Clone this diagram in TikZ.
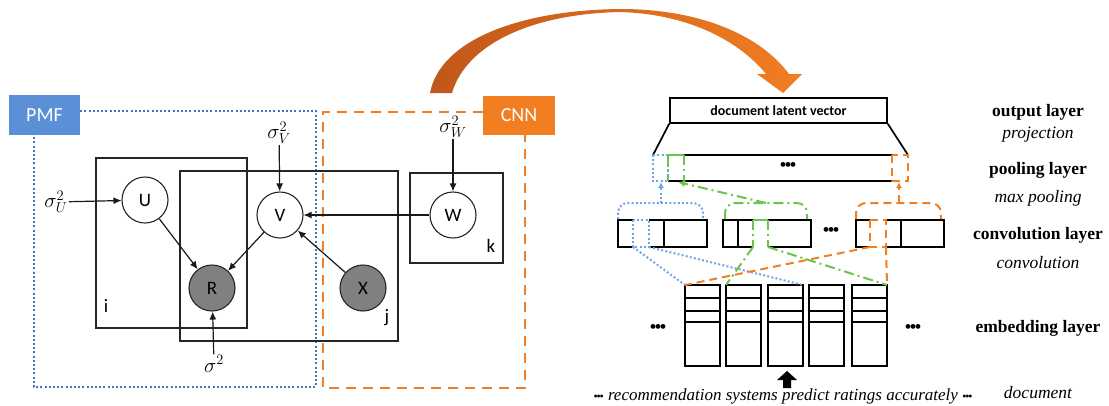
\documentclass[tikz,border=0pt]{standalone}
\usepackage{fontspec}
\setmainfont{Liberation Serif}
\newfontfamily\calibri{Carlito}
\usetikzlibrary{arrows.meta}
\definecolor{pmfblue}{HTML}{5B8FD6}
\definecolor{pmfline}{HTML}{4472C4}
\definecolor{lblue}{HTML}{6FA4E8}
\definecolor{cnnorange}{HTML}{F27E22}
\definecolor{darkorange}{HTML}{C0571B}
\definecolor{lgreen}{HTML}{6BC54B}
\definecolor{obsgray}{HTML}{808080}
\newcommand{\bigdots}{\textbullet\kern-2pt\textbullet\kern-2pt\textbullet}
\newcommand{\smalldots}{{\fontsize{12}{12}\selectfont\upshape\textbullet\kern-1.2pt\textbullet\kern-1.2pt\textbullet}}
\begin{document}
\begin{tikzpicture}[x=1pt,y=-1pt,
  plate/.style={draw=black!85, line width=1.3pt},
  var/.style={circle, draw=black!85, line width=1.1pt, minimum size=46pt, inner sep=0pt, fill=white, font=\calibri\fontsize{19}{19}\selectfont},
  obs/.style={var, fill=obsgray},
  arr/.style={-{Latex[length=8pt,width=7pt]}, line width=1.2pt, draw=black!90},
  sig/.style={inner sep=1pt, font=\fontsize{22.5}{22.5}\selectfont},
  platelab/.style={inner sep=0pt, font=\calibri\fontsize{19}{19}\selectfont},
  tagbox/.style={text=white, inner sep=0pt, font=\calibri\fontsize{20}{20}\selectfont},
  pmfdot/.style={draw=pmfline, line width=2.2pt, dash pattern=on 2pt off 2.2pt},
  cnndash/.style={draw=cnnorange, line width=2.2pt, dash pattern=on 10pt off 7pt},
  bdot/.style={draw=lblue, line width=2pt, dash pattern=on 2pt off 2.2pt},
  gdash/.style={draw=lgreen, line width=2pt, dash pattern=on 10pt off 4pt on 2pt off 4pt},
  odash/.style={draw=cnnorange, line width=2pt, dash pattern=on 8pt off 5pt},
  blk/.style={draw=black, line width=1.7pt},
  lname/.style={inner sep=0pt, font=\bfseries\fontsize{17.5}{18}\selectfont},
  lop/.style={inner sep=0pt, font=\itshape\fontsize{17.5}{18}\selectfont},
  dots/.style={inner sep=0pt, font=\fontsize{20}{20}\selectfont}]
\useasboundingbox (0,0) rectangle (1109,405);

% ---------------- left: PMF / CNN graphical model
\node[tagbox, fill=pmfblue, minimum width=71pt, minimum height=40pt] (pmf) at (44.5,115) {PMF};
\node[tagbox, fill=cnnorange, minimum width=72pt, minimum height=39pt] (cnn) at (519,115.5) {CNN};
\draw[pmfdot] (pmf.east |- 0,111) -- (316,111) -- (316,387) -- (34,387) -- (34,135);
\draw[cnndash] (cnn.west |- 0,112) -- (323,112) -- (323,388) -- (525,388) -- (525,135);

\draw[plate] (96,158) rectangle (247,328);
\draw[plate] (180,171) rectangle (398,341);
\draw[plate] (410,173) rectangle (503,263);
\node[platelab] (li) at (106,306) {i};
\node[platelab] (lj) at (387,318) {j};
\node[platelab] (lk) at (491,246) {k};

\node[var] (U) at (145,200) {U};
\node[var] (V) at (280,215) {V};
\node[obs] (R) at (212,288) {R};
\node[obs] (X) at (363,288) {X};
\node[var] (W) at (453,215) {W};

\node[sig] (sU) at (56,202) {$\sigma_U^2$};
\node[sig] (sV) at (279,133) {$\sigma_V^2$};
\node[sig] (sW) at (453,127) {$\sigma_W^2$};
\node[sig] (s) at (214,364) {$\sigma^2$};

\draw[arr] (sU) -- (U);
\draw[arr] (sV) -- (V);
\draw[arr] (sW) -- (W);
\draw[arr] (s) -- (R);
\draw[arr] (U) -- (R);
\draw[arr] (V) -- (R);
\draw[arr] (W) -- (V);
\draw[arr] (X) -- (V);

% ---------------- curved arrow
\path[left color=darkorange, right color=cnnorange]
  (430,93) .. controls (440,40) and (520,10) .. (620,9)
  .. controls (700,9) and (760,35) .. (789,74)
  -- (802,74) -- (783,93) -- (757,74) -- (766,74)
  .. controls (740,42) and (690,14) .. (620,12)
  .. controls (530,14) and (466,45) .. (452,93) -- cycle;

% ---------------- right: CNN layers
\node[blk, minimum width=217pt, minimum height=25pt, inner sep=0pt,
      font=\calibri\bfseries\fontsize{14}{14}\selectfont] (dlv) at (778.5,110.5) {document latent vector};
\coordinate (pbl) at (653,155);
\coordinate (pbr) at (908,155);
\draw[blk] (dlv.south west) -- (pbl);
\draw[blk] (dlv.south east) -- (pbr);

% pooling layer
\draw[blk] (684,155) -- (892,155);
\draw[blk] (668,181) -- (892,181);
\node[dots] (pdots) at (788,167) {\bigdots};
\draw[bdot] (653,155) rectangle (668,181);
\draw[draw=lgreen, line width=2pt] (668,155) -- (684,155);
\draw[gdash] (668,155) -- (668,181) (684,155) -- (684,181);
\draw[odash] (892,155) rectangle (908,181);

% convolution layer boxes
\draw[blk] (618,220) rectangle (707,247) (664,220) -- (664,247);
\draw[blk] (723,220) rectangle (811,247) (738,220) -- (738,247);
\draw[blk] (856,220) rectangle (944,247) (901,220) -- (901,247);
\node[dots] (cdots) at (831,232) {\bigdots};

% filter windows
\draw[white, line width=2.4pt] (633,220) -- (649,220) (633,247) -- (649,247);
\draw[bdot] (633,220) rectangle (649,247);
\draw[white, line width=2.4pt] (753,220) -- (768,220) (753,247) -- (768,247);
\draw[draw=lgreen, line width=2pt] (753,220) -- (768,220);
\draw[gdash] (753,220) -- (753,247) (768,220) -- (768,247);
\draw[white, line width=2.4pt] (870,220) -- (886,220) (870,247) -- (886,247);
\draw[odash] (870,220) rectangle (886,247);

% brackets and pooling arrows
\draw[bdot, rounded corners=10pt] (618,219) -- (618,203) -- (703,203) -- (703,219);
\draw[gdash, rounded corners=10pt] (725,219) -- (725,203) -- (807,203) -- (807,219);
\draw[odash, rounded corners=10pt] (856,219) -- (856,203) -- (941,203) -- (941,219);
\draw[bdot, -{Latex[length=6pt,width=6pt]}] (661,203) -- (661,182);
\draw[odash, -{Latex[length=6pt,width=6pt]}] (899,203) -- (899,182);
\draw[gdash, -{Latex[length=7pt,width=7pt]}] (766,203) -- (678,182);

% embedding layer
\foreach \x [count=\i] in {685,726,768,809,852}{
  \draw[blk] (\x,285) rectangle (\x+35,366);
  \draw[blk] (\x,298) -- (\x+35,298) (\x,311) -- (\x+35,311) (\x,322) -- (\x+35,322);
  \coordinate (e\i) at (\x,285);
}
\coordinate (e5r) at (887,285);
\coordinate (e3r) at (803,285);
\node[dots] (edl) at (658,329) {\bigdots};
\node[dots] (edr) at (913,329) {\bigdots};

% filter connections
\draw[bdot] (633,247) -- (e1);
\draw[bdot] (649,247) -- (e3r);
\draw[gdash] (753,247) -- (e2);
\draw[gdash] (768,247) -- (e5r);
\draw[odash] (870,247) -- (e1);
\draw[odash] (886,247) -- (e5r);

% block arrow and document text
\fill[black] (783,388) -- (783,380) -- (777,380) -- (787,371) -- (797,380) -- (791,380) -- (791,388) -- cycle;
\node[inner sep=0pt, font=\itshape\fontsize{17}{18}\selectfont] (doc) at (783,396)
  {\smalldots\ recommendation systems predict ratings accurately \smalldots};

% layer labels
\node[lname] (l1) at (1038,112) {output layer};
\node[lop] (l2) at (1038,135) {projection};
\node[lname] (l3) at (1038,170) {pooling layer};
\node[lop] (l4) at (1038,198) {max pooling};
\node[lname] (l5) at (1038,235) {convolution layer};
\node[lop] (l6) at (1038,263) {convolution};
\node[lname] (l7) at (1038,328) {embedding layer};
\node[lop] (l8) at (1038,393) {document};
\end{tikzpicture}
\end{document}
